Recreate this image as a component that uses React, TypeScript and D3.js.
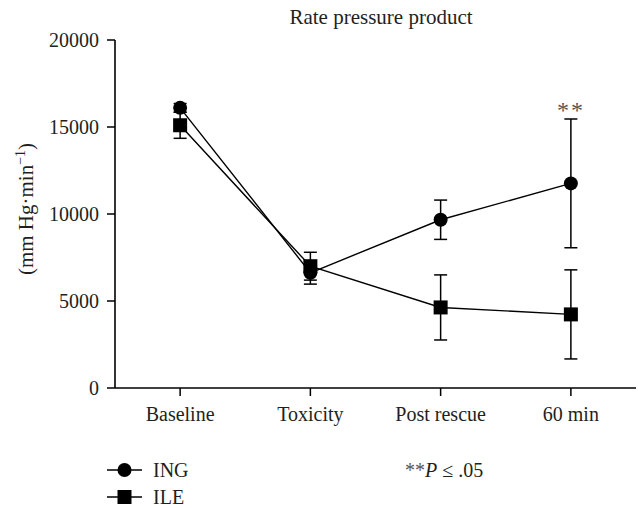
import React from "react";
import * as d3 from "d3";

const categories = ["Baseline", "Toxicity", "Post rescue", "60 min"];
const ingMean = [16100, 6620, 9670, 11760];
const ingErr = [250, 650, 1130, 3700];
const ileMean = [15100, 7000, 4630, 4230];
const ileErr = [750, 800, 1870, 2560];
const yTicks = [0, 5000, 10000, 15000, 20000];

const W = 638;
const H = 508;
const left = 115;
const right = 636;
const top = 40;
const bottom = 388;
const FONT = "'Liberation Serif', 'Times New Roman', serif";
const TXT = "#231f20";

export default function App() {
  const x = d3.scalePoint<string>().domain(categories).range([left, right]).padding(0.5);
  const y = d3.scaleLinear().domain([0, 20000]).range([bottom, top]);
  const line = d3
    .line<number>()
    .x((_, i) => x(categories[i]) as number)
    .y((d) => y(d));

  const errBars = (means: number[], errs: number[], key: string) =>
    means.map((m, i) => {
      const cx = x(categories[i]) as number;
      const y1 = y(m + errs[i]);
      const y2 = y(m - errs[i]);
      return (
        <g key={key + i} stroke="#000" strokeWidth={1.5}>
          <line x1={cx} x2={cx} y1={y1} y2={y2} />
          <line x1={cx - 6.5} x2={cx + 6.5} y1={y1} y2={y1} />
          <line x1={cx - 6.5} x2={cx + 6.5} y1={y2} y2={y2} />
        </g>
      );
    });

  return (
    <svg width={W} height={H} style={{ position: "absolute", left: 0, top: 0, background: "#fff" }} fontFamily={FONT}>
      <text x={381} y={24} textAnchor="middle" fontSize={21} fill={TXT}>
        Rate pressure product
      </text>
      {/* y axis */}
      <line x1={left} x2={left} y1={top} y2={bottom} stroke="#000" strokeWidth={1.6} />
      {yTicks.map((t) => (
        <g key={t}>
          <line x1={left - 8} x2={left} y1={y(t)} y2={y(t)} stroke="#000" strokeWidth={1.5} />
          <text x={99} y={y(t)} dy="0.35em" textAnchor="end" fontSize={20} fill={TXT}>
            {t}
          </text>
        </g>
      ))}
      {/* x axis */}
      <line x1={left} x2={right} y1={bottom} y2={bottom} stroke="#000" strokeWidth={1.6} />
      {categories.map((c) => (
        <g key={c}>
          <line x1={x(c)} x2={x(c)} y1={bottom} y2={bottom + 8} stroke="#000" strokeWidth={1.5} />
          <text x={x(c)} y={421} textAnchor="middle" fontSize={20} fill={TXT}>
            {c}
          </text>
        </g>
      ))}
      <text transform="translate(33,209) rotate(-90)" textAnchor="middle" fontSize={21} fill={TXT}>
        (mm Hg·min
        <tspan fontSize={14} dy={-8}>−1</tspan>
        <tspan dy={8}>)</tspan>
      </text>
      {errBars(ileMean, ileErr, "ile")}
      {errBars(ingMean, ingErr, "ing")}
      <path d={line(ingMean) || ""} fill="none" stroke="#000" strokeWidth={1.4} />
      <path d={line(ileMean) || ""} fill="none" stroke="#000" strokeWidth={1.4} />
      {ileMean.map((m, i) => (
        <rect key={"s" + i} x={(x(categories[i]) as number) - 7} y={y(m) - 7} width={14} height={14} fill="#000" />
      ))}
      {ingMean.map((m, i) => (
        <circle key={"c" + i} cx={x(categories[i]) as number} cy={y(m)} r={7} fill="#000" />
      ))}
      <text x={x("60 min") as number} y={y(ingMean[3] + ingErr[3]) - 1} textAnchor="middle" fontSize={24} fill="#555" letterSpacing={2}>
        **
      </text>
      {/* legend */}
      <line x1={107} x2={142} y1={470} y2={470} stroke="#000" strokeWidth={1.5} />
      <circle cx={124.5} cy={470} r={7} fill="#000" />
      <text x={153} y={477} fontSize={20} fill={TXT}>ING</text>
      <line x1={107} x2={142} y1={497} y2={497} stroke="#000" strokeWidth={1.5} />
      <rect x={117.5} y={490} width={14} height={14} fill="#000" />
      <text x={153} y={504} fontSize={20} fill={TXT}>ILE</text>
      <text x={405} y={477} fontSize={20} fill={TXT}>
        <tspan fill="#555">**</tspan>
        <tspan fontStyle="italic">P</tspan> ≤ .05
      </text>
    </svg>
  );
}
